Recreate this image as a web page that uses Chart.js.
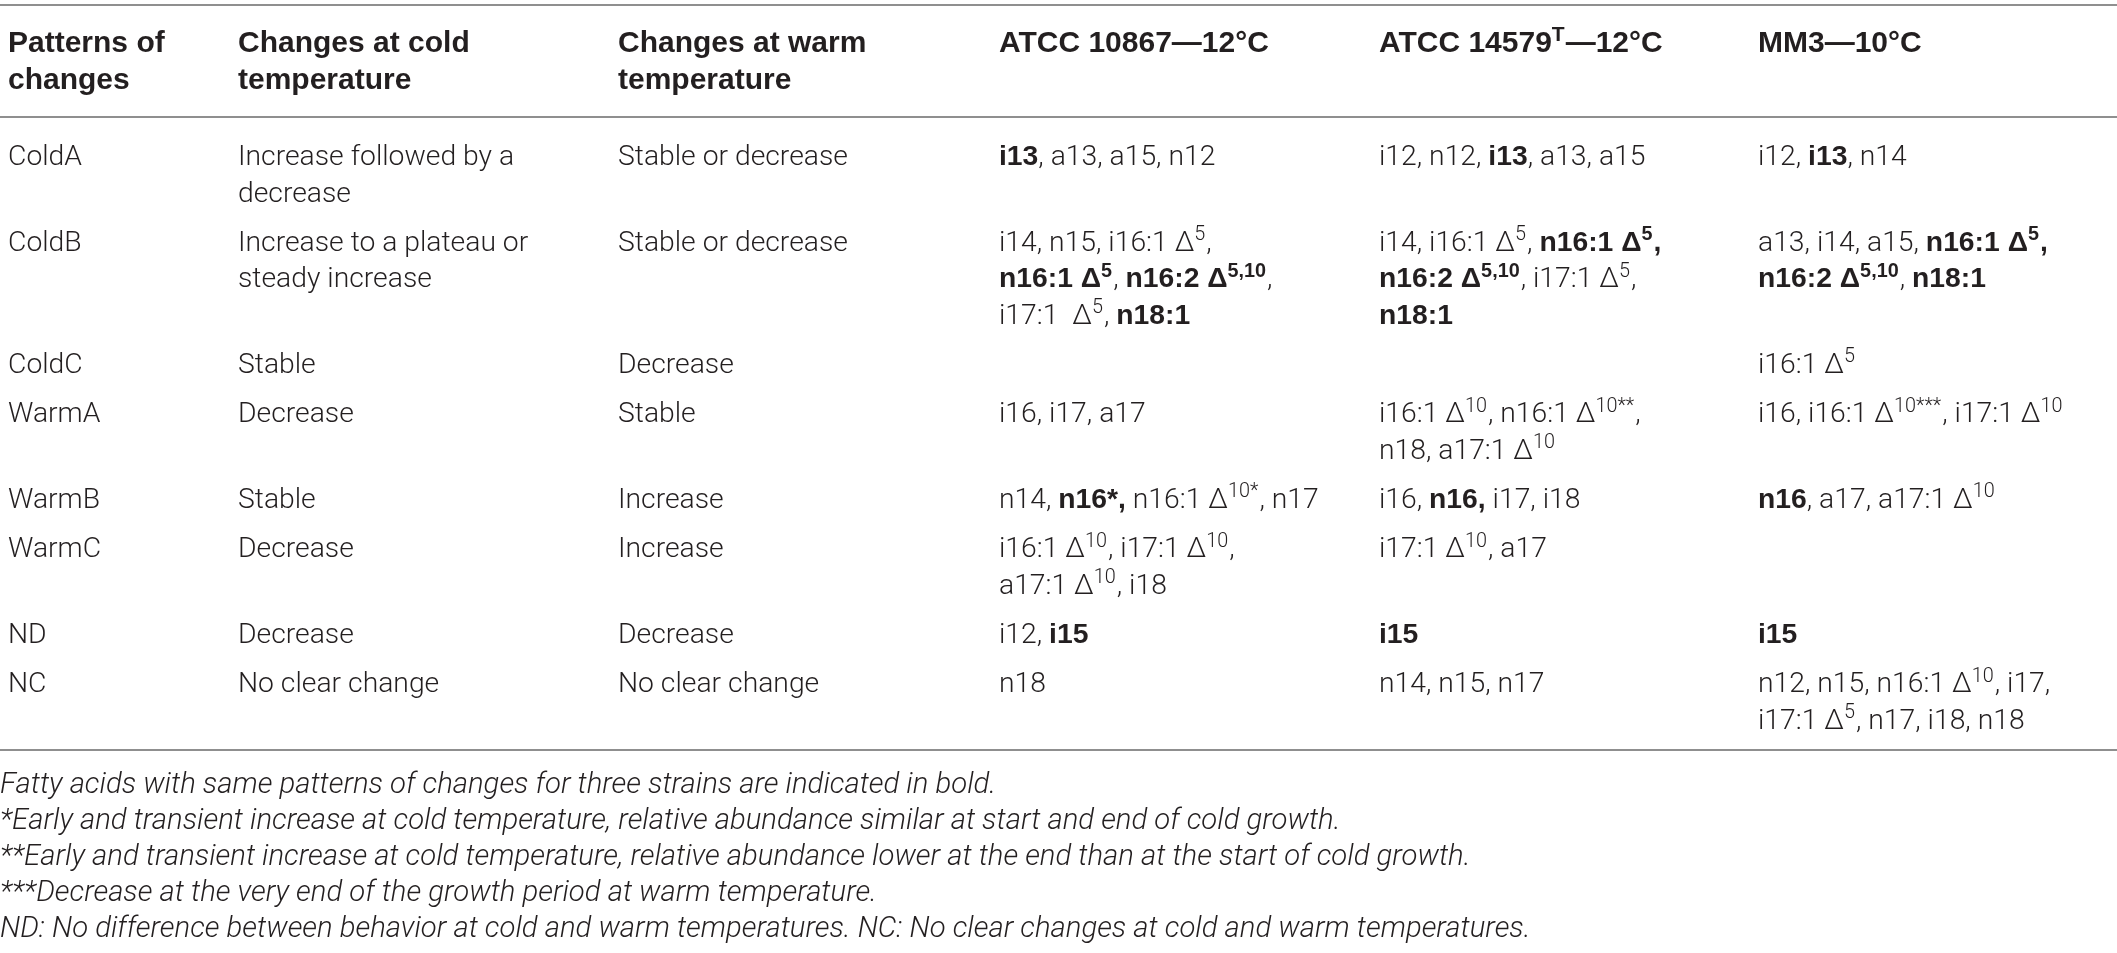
<!DOCTYPE html>
<html><head><meta charset="utf-8">
<script src="https://cdn.jsdelivr.net/npm/chart.js@4.4.0/dist/chart.umd.min.js"></script>
<style>html,body{margin:0;padding:0;background:#fff;overflow:hidden}#wrap{width:2117px;height:953px;position:relative}</style>
</head><body><div id="wrap"><canvas id="c"></canvas></div>
<script>
// ---------- DATA (content only) ----------
const headers = ["Patterns of\nchanges", "Changes at cold\ntemperature", "Changes at warm\ntemperature",
  "ATCC 10867\u201412°C", "ATCC 14579^{T}\u201412°C", "MM3\u201410°C"];
const patterns = ["ColdA", "ColdB", "ColdC", "WarmA", "WarmB", "WarmC", "ND", "NC"];
const coldChanges = ["Increase followed by a\ndecrease", "Increase to a plateau or\nsteady increase", "Stable",
  "Decrease", "Stable", "Decrease", "Decrease", "No clear change"];
const warmChanges = ["Stable or decrease", "Stable or decrease", "Decrease", "Stable", "Increase",
  "Increase", "Decrease", "No clear change"];
const atcc10867 = [
  "**i13**, a13, a15, n12",
  "i14, n15, i16:1 Δ^{5},\n**n16:1 Δ^{5}**, **n16:2 Δ^{5,10}**,\ni17:1  Δ^{5}, **n18:1**",
  "",
  "i16, i17, a17",
  "n14, **n16*,** n16:1 Δ^{10*}, n17",
  "i16:1 Δ^{10}, i17:1 Δ^{10},\na17:1 Δ^{10}, i18",
  "i12, **i15**",
  "n18"];
const atcc14579 = [
  "i12, n12, **i13**, a13, a15",
  "i14, i16:1 Δ^{5}, **n16:1 Δ^{5},**\n**n16:2 Δ^{5,10}**, i17:1 Δ^{5},\n**n18:1**",
  "",
  "i16:1 Δ^{10}, n16:1 Δ^{10**},\nn18, a17:1 Δ^{10}",
  "i16, **n16,** i17, i18",
  "i17:1 Δ^{10}, a17",
  "**i15**",
  "n14, n15, n17"];
const mm3 = [
  "i12, **i13**, n14",
  "a13, i14, a15, **n16:1 Δ^{5},**\n**n16:2 Δ^{5,10}**, **n18:1**",
  "i16:1 Δ^{5}",
  "i16, i16:1 Δ^{10***}, i17:1 Δ^{10}",
  "**n16**, a17, a17:1 Δ^{10}",
  "",
  "**i15**",
  "n12, n15, n16:1 Δ^{10}, i17,\ni17:1 Δ^{5}, n17, i18, n18"];
const footnotes = [
  "Fatty acids with same patterns of changes for three strains are indicated in bold.",
  "*Early and transient increase at cold temperature, relative abundance similar at start and end of cold growth.",
  "**Early and transient increase at cold temperature, relative abundance lower at the end than at the start of cold growth.",
  "***Decrease at the very end of the growth period at warm temperature.",
  "ND: No difference between behavior at cold and warm temperatures. NC: No clear changes at cold and warm temperatures."];

// ---------- LAYOUT / STYLE ----------
const W = 2117, H = 953;
const colX = [8, 238, 618, 999, 1379, 1758];
const LINE = 36.6, ROWPAD = 12.6;
const HEAD_Y = 42, BODY_Y = 155, FOOT_Y = 783, FOOT_STEP = 36;
const RULES = [5, 117, 750];
const FS = 28.3, HFS = 30, FFS = 29.3;
const TXT = '#231f20', RULE = '#8f8f8f';
const LIGHT = (s) => `300 ${s}px Roboto`;
const BOLD = (s) => `bold ${s}px "Liberation Sans"`;
const ITAL = (s) => `italic 300 ${s}px Roboto`;

const columns = [patterns, coldChanges, warmChanges, atcc10867, atcc14579, mm3];
const rowLines = patterns.map((_, r) => Math.max(...columns.map(c => c[r].split('\n').length)));
const rowY = [];
{ let y = BODY_Y; rowLines.forEach(n => { rowY.push(y); y += n * LINE + ROWPAD; }); }

function parseRich(str, allBold) {
  const segs = []; let bold = !!allBold; let buf = ''; let i = 0;
  const flush = () => { if (buf) { segs.push({ t: buf, bold, sup: false }); buf = ''; } };
  while (i < str.length) {
    if (str[i] === '^' && str[i + 1] === '{') { flush(); const j = str.indexOf('}', i); segs.push({ t: str.slice(i + 2, j), bold, sup: true }); i = j + 1; continue; }
    if (!allBold && str[i] === '*' && str[i + 1] === '*') { flush(); bold = !bold; i += 2; continue; }
    buf += str[i]; i++;
  }
  flush(); return segs;
}
function drawRich(ctx, line, x, y, size, allBold) {
  const segs = parseRich(line, allBold);
  let cx = x;
  segs.forEach(s => {
    const fs = s.sup ? size * 0.7 : size;
    ctx.font = s.bold ? BOLD(fs) : LIGHT(fs);
    const yy = s.sup ? y - size * 0.38 : y;
    ctx.fillText(s.t, cx, yy);
    cx += ctx.measureText(s.t).width + (s.sup ? 1 : 0);
  });
}

const tablePlugin = {
  id: 'tablePlugin',
  afterDatasetsDraw(chart) {
    const ctx = chart.ctx, xs = chart.scales.x, ys = chart.scales.y;
    ctx.save();
    ctx.strokeStyle = RULE; ctx.lineWidth = 2;
    RULES.forEach(v => { const py = Math.round(ys.getPixelForValue(v)); ctx.beginPath(); ctx.moveTo(xs.getPixelForValue(0), py); ctx.lineTo(xs.getPixelForValue(W), py); ctx.stroke(); });
    ctx.fillStyle = TXT; ctx.textBaseline = 'alphabetic'; ctx.textAlign = 'left';
    chart.data.datasets.forEach((ds, di) => {
      const meta = chart.getDatasetMeta(di);
      meta.data.forEach((el, i) => {
        const txt = ds.cellText[i];
        if (!txt) return;
        txt.split('\n').forEach((ln, k) => {
          const y = el.y + (k * LINE) * (ys.height / H) + 10;
          if (ds.kind === 'head') drawRich(ctx, ln, el.x, y, HFS, true);
          else if (ds.kind === 'foot') { ctx.font = ITAL(FFS); ctx.fillText(ln, el.x, y); }
          else drawRich(ctx, ln, el.x, y, FS, false);
        });
      });
    });
    ctx.restore();
  }
};

const datasets = columns.map((col, ci) => ({
  kind: 'body', cellText: col, pointRadius: 0,
  data: rowY.map(y => ({ x: colX[ci], y }))
}));
datasets.push({ kind: 'head', cellText: headers, pointRadius: 0, data: headers.map((_, ci) => ({ x: colX[ci], y: HEAD_Y })) });
datasets.push({ kind: 'foot', cellText: footnotes, pointRadius: 0, data: footnotes.map((_, i) => ({ x: 0, y: FOOT_Y + i * FOOT_STEP })) });

new Chart(document.getElementById('c'), {
  type: 'scatter',
  data: { datasets },
  options: {
    responsive: true, maintainAspectRatio: false, animation: false, devicePixelRatio: 1,
    layout: { padding: 0 },
    events: [],
    scales: {
      x: { type: 'linear', min: 0, max: W, display: false },
      y: { type: 'linear', min: 0, max: H, reverse: true, display: false }
    },
    plugins: { legend: { display: false }, tooltip: { enabled: false } }
  },
  plugins: [tablePlugin]
});
</script></body></html>
